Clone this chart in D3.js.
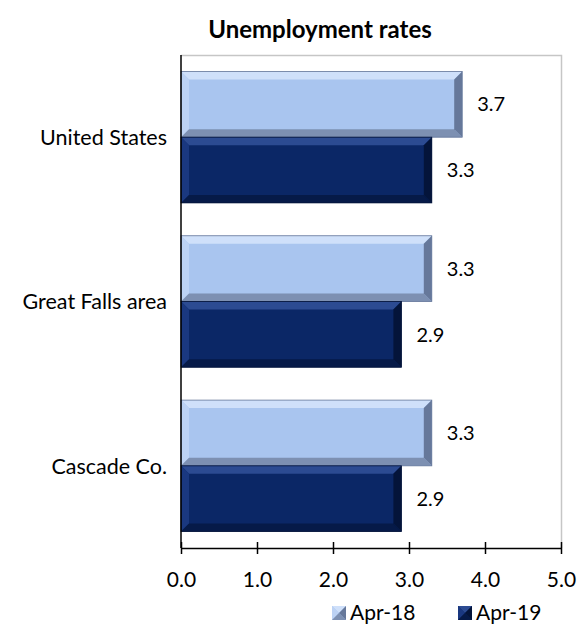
<!DOCTYPE html>
<html><head><meta charset="utf-8">
<script src="https://cdn.jsdelivr.net/npm/d3@7"></script>
<style>body{margin:0;background:#fff}svg{display:block}text{font-family:Lato,"Open Sans",sans-serif}</style>
</head><body><svg id="c" width="578" height="624"></svg>
<script>
const categories = ["United States", "Great Falls area", "Cascade Co."];
const seriesNames = ["Apr-18", "Apr-19"];
const apr18 = [3.7, 3.3, 3.3];
const apr19 = [3.3, 2.9, 2.9];
const xTicks = [0, 1, 2, 3, 4, 5];
const title = "Unemployment rates";

const palette = {
  "Apr-18": {main:"#a9c5ef", top:"#cfe0fa", left:"#bcd2f4", bottom:"#7d90b2", right:"#66789a"},
  "Apr-19": {main:"#0b2766", top:"#2c4b92", left:"#1a3880", bottom:"#061a48", right:"#04143a"}
};
const data = categories.map((c,i)=>({cat:c, vals:[{s:"Apr-18",v:apr18[i]},{s:"Apr-19",v:apr19[i]}]}));

const svg = d3.select("#c");
const L=181, R=561, T=55, B=548;
const x = d3.scaleLinear().domain([0,5]).range([L,R]);
const y = d3.scaleBand().domain(categories).range([T,B]).paddingInner(0.2).paddingOuter(0.1);
const ys = d3.scaleBand().domain(seriesNames).range([0,y.bandwidth()]);

svg.append("text").attr("x",320).attr("y",38).attr("text-anchor","middle")
  .attr("font-size",24).attr("font-weight","bold").attr("fill","#000").text(title);

// plot border (top/right)
svg.append("path").attr("d",`M${L},${T+0.5}H${R+0.5}V${B}`).attr("fill","none").attr("stroke","#c6c6c6").attr("stroke-width",1.5);

function bevelBar(g, x0, y0, w, h, c){
  const b = Math.min(8, w/2, h/2);
  g.append("rect").attr("x",x0).attr("y",y0).attr("width",w).attr("height",h).attr("fill",c.main);
  const poly=(pts,f)=>g.append("polygon").attr("points",pts.map(p=>p.join(",")).join(" ")).attr("fill",f);
  poly([[x0,y0],[x0+w,y0],[x0+w-b,y0+b],[x0+b,y0+b]], c.top);
  poly([[x0,y0],[x0+b,y0+b],[x0+b,y0+h-b],[x0,y0+h]], c.left);
  poly([[x0,y0+h],[x0+b,y0+h-b],[x0+w-b,y0+h-b],[x0+w,y0+h]], c.bottom);
  poly([[x0+w,y0],[x0+w,y0+h],[x0+w-b,y0+h-b],[x0+w-b,y0+b]], c.right);
  g.append("rect").attr("x",x0).attr("y",y0).attr("width",w).attr("height",h).attr("fill","none")
    .attr("stroke",c.right).attr("stroke-width",0.8);
}

const groups = svg.selectAll("g.cat").data(data).join("g").attr("class","cat")
  .attr("transform",d=>`translate(0,${y(d.cat)})`);
groups.each(function(d){
  const g=d3.select(this);
  d.vals.forEach(v=>{
    const yy=ys(v.s), h=ys.bandwidth();
    bevelBar(g, x(0), yy, x(v.v)-x(0), h, palette[v.s]);
    g.append("text").attr("x",x(v.v)+15).attr("y",yy+h/2).attr("dy","0.36em")
      .attr("font-size",20).attr("fill","#000").text(v.v.toFixed(1));
  });
});

// category labels
svg.selectAll("text.cl").data(categories).join("text").attr("class","cl")
  .attr("x",167).attr("y",d=>y(d)+y.bandwidth()/2).attr("dy","0.37em").attr("text-anchor","end")
  .attr("font-size",21.5).attr("fill","#000").text(d=>d);

// left axis line
svg.append("line").attr("x1",L).attr("x2",L).attr("y1",T).attr("y2",B).attr("stroke","#000").attr("stroke-width",1.5);

// bottom axis
const xAxis = d3.axisBottom(x).tickValues(xTicks).tickFormat(d3.format(".1f")).tickSize(0).tickPadding(0);
const ax = svg.append("g").attr("transform",`translate(0,${B})`).call(xAxis);
ax.select(".domain").attr("stroke","#000").attr("stroke-width",1.5);
ax.selectAll(".tick line").attr("y1",-6).attr("y2",6).attr("stroke","#000").attr("stroke-width",1.5);
ax.selectAll(".tick text").attr("y",39).attr("dy","0").attr("font-size",21).attr("fill","#000")
  .attr("font-family",'Lato,"Open Sans",sans-serif');

// legend
const legX=[332,458];
const lg = svg.selectAll("g.leg").data(seriesNames).join("g").attr("class","leg")
  .attr("transform",(d,i)=>`translate(${legX[i]},606)`);
lg.each(function(s){
  const g=d3.select(this), c=palette[s], w=14;
  g.append("rect").attr("width",w).attr("height",w).attr("fill",c.main);
  const poly=(pts,f)=>g.append("polygon").attr("points",pts.map(p=>p.join(",")).join(" ")).attr("fill",f);
  const m=w/2;
  poly([[0,0],[w,0],[m,m]],c.top);
  poly([[0,0],[m,m],[0,w]],c.left);
  poly([[0,w],[m,m],[w,w]],c.bottom);
  poly([[w,0],[w,w],[m,m]],c.right);
  g.append("text").attr("x",w+4).attr("y",14).attr("font-size",21).attr("fill","#000").text(s);
});
</script></body></html>
